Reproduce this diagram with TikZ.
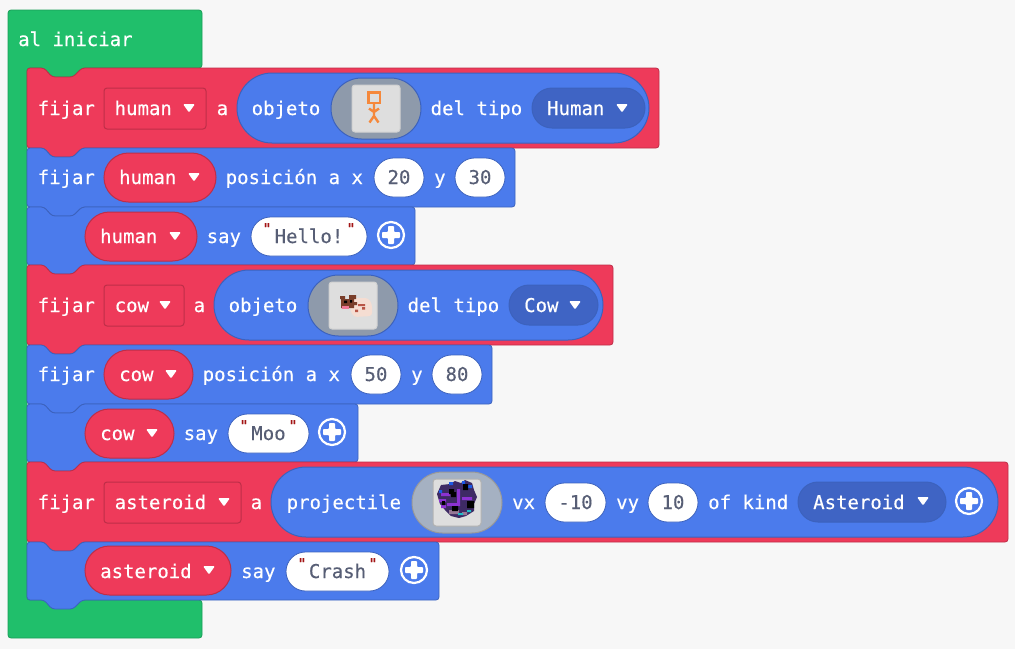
\documentclass[tikz,border=0pt]{standalone}
\usepackage{fontspec}
\usetikzlibrary{shapes.misc}
\newfontfamily\blockfont{DejaVu Sans Mono}[FakeBold=0.3]
\definecolor{pagegray}{HTML}{F7F7F7}
\definecolor{startgreen}{HTML}{20BF6B}
\definecolor{startedge}{HTML}{1A9D58}
\definecolor{varred}{HTML}{EE3A5A}
\definecolor{varedge}{HTML}{BE2E48}
\definecolor{spriteblue}{HTML}{4B7BEC}
\definecolor{spriteedge}{HTML}{3C62BD}
\definecolor{kinddark}{HTML}{3F64C4}
\definecolor{slotgray}{HTML}{8E9AAB}
\definecolor{slotlight}{HTML}{A5B1C2}
\definecolor{thumbgray}{HTML}{DEDEDE}
\definecolor{numtext}{HTML}{575E75}
\definecolor{quotered}{HTML}{A31515}
\definecolor{humanorange}{HTML}{F5883B}
\newcommand{\stackblock}[4]{%
  \draw[#1,rounded corners=3pt] (27,#2) -- (44,#2) -- (52,#2+9) -- (73,#2+9) -- (82,#2) -- (#4,#2)
    -- (#4,#3) -- (82,#3) -- (73,#3+9) -- (52,#3+9) -- (44,#3) -- (27,#3) -- cycle;}
\tikzset{
  startblock/.style={fill=startgreen,draw=startedge,line width=0.8pt},
  setblock/.style={fill=varred,draw=varedge,line width=0.8pt},
  callblock/.style={fill=spriteblue,draw=spriteedge,line width=0.8pt},
  word/.style={font=\fontsize{19}{22}\blockfont,text=white,anchor=base west,inner sep=0pt},
  varpill/.style={rounded rectangle,fill=varred,draw=varedge,line width=1pt,minimum height=49pt,inner sep=0pt},
  varbox/.style={rectangle,rounded corners=3pt,fill=varred,draw=varedge,line width=1pt,minimum height=41pt,inner sep=0pt},
  spritepill/.style={rounded rectangle,fill=spriteblue,draw=spriteedge,line width=1pt,minimum height=70pt,inner sep=0pt},
  kindpill/.style={rounded rectangle,fill=kinddark,draw=spriteedge,line width=1pt,minimum height=40pt,inner sep=0pt},
  slotpill/.style={rounded rectangle,fill=slotgray,draw=spriteedge,line width=1pt,minimum width=90pt,minimum height=61pt,inner sep=0pt},
  thumb/.style={rectangle,rounded corners=3pt,fill=thumbgray,draw=black!18,line width=1pt,minimum width=48pt,minimum height=47pt,inner sep=0pt},
  numpill/.style={rounded rectangle,fill=white,draw=spriteedge,line width=0.8pt,minimum height=39pt,inner sep=0pt,
    font=\fontsize{19}{22}\blockfont,text=numtext,text height=13pt,text depth=0pt},
  quotemark/.style={font=\fontsize{15}{17}\blockfont,text=quotered,anchor=base,inner sep=0pt},
  plusbtn/.style={circle,draw=white,line width=2.2pt,minimum size=26pt,inner sep=0pt,
    path picture={\fill[white,rounded corners=0.8pt] ([shift={(-3,-9)}]path picture bounding box.center) -- ++(6,0) -- ++(0,6) -- ++(6,0) -- ++(0,6)
      -- ++(-6,0) -- ++(0,6) -- ++(-6,0) -- ++(0,-6) -- ++(-6,0) -- ++(0,-6) -- ++(6,0) -- cycle;}},
  dropmark/.pic={\fill[white,rounded corners=1.2pt] (-6,-4) -- (6,-4) -- (0,4.5) -- cycle;}
}
\begin{document}
\begin{tikzpicture}[x=1pt,y=-1pt]
  \useasboundingbox[fill=pagegray] (0,0) rectangle (1015,649);
  \draw[startblock,rounded corners=3pt] (8,10) -- (202,10) -- (202,68) -- (82,68) -- (73,77) -- (52,77) -- (44,68) -- (27,68)
    -- (27,600) -- (202,600) -- (202,638) -- (8,638) -- cycle;
  \node[word] (start) at (18,46) {al iniciar};

  \stackblock{setblock}{68}{148}{659}
  \stackblock{callblock}{148}{207}{515}
  \stackblock{callblock}{207}{265}{415}
  \stackblock{setblock}{265}{345}{613}
  \stackblock{callblock}{345}{404}{492}
  \stackblock{callblock}{404}{462}{358}
  \stackblock{setblock}{462}{542}{1008}
  \stackblock{callblock}{542}{600}{439}

  % human
  \node[word] (setA) at (37.5,115) {fijar};
  \node[varbox,minimum width=102pt] (boxA) at (155,108.5) {};
  \node[word] (varA) at (114.5,115) {human};
  \node[word] (toA) at (216.5,115) {a};
  \node[spritepill,minimum width=412pt] (objA) at (443,108) {};
  \node[word] (objwordA) at (251.5,115) {objeto};
  \node[slotpill] (slotA) at (376,108.5) {};
  \node[thumb] (thumbA) at (376,108.5) {};
  \node[word] (typeA) at (430.5,115) {del tipo};
  \node[kindpill,minimum width=113pt] (kindA) at (588.5,108) {};
  \node[word] (kindwordA) at (547,115) {Human};
  \draw[humanorange,line width=2.4pt] (368.5,92.5) rectangle (380,103);
  \draw[humanorange,line width=2.4pt] (374,103) -- (374,116) (369,108.5) -- (374,112) -- (379,108.5) (369.5,122.5) -- (374,116) -- (378.5,122.5);

  \node[word] (posA) at (37.5,184) {fijar};
  \node[varpill,minimum width=112pt] (pillA) at (160,177.5) {};
  \node[word] (varB) at (119,184) {human};
  \node[word] (posword) at (225.5,184) {posición a x};
  \node[numpill,minimum width=50pt] (xA) at (399,177.5) {20};
  \node[word] (yA) at (434,184) {y};
  \node[numpill,minimum width=50pt] (yvalA) at (480,177.5) {30};

  \node[varpill,minimum width=112pt] (pillB) at (141,236.5) {};
  \node[word] (varC) at (100,243) {human};
  \node[word] (sayA) at (206.5,243) {say};
  \node[numpill,minimum width=116pt] (strA) at (309,236.5) {Hello!};
  \node[quotemark] (qA) at (267,234) {"};
  \node[quotemark] (qB) at (351,234) {"};
  \node[plusbtn] (plusA) at (391,235) {};

  % cow
  \node[word] (setC) at (37.5,312) {fijar};
  \node[varbox,minimum width=80pt] (boxC) at (144,305.5) {};
  \node[word] (varD) at (114.5,312) {cow};
  \node[word] (toC) at (193.5,312) {a};
  \node[spritepill,minimum width=389pt] (objC) at (408.5,305) {};
  \node[word] (objwordC) at (228.5,312) {objeto};
  \node[slotpill] (slotC) at (353,305.5) {};
  \node[thumb] (thumbC) at (353,305.5) {};
  \node[word] (typeC) at (407.5,312) {del tipo};
  \node[kindpill,minimum width=89pt] (kindC) at (553.5,305) {};
  \node[word] (kindwordC) at (524,312) {Cow};
  \fill[rounded corners=3pt,color={rgb,255:red,245;green,221;blue,210}] (352,298) -- (368,298) -- (372,304) -- (372,316) -- (354,317) -- (350,310) -- cycle;
  \fill[color={rgb,255:red,122;green,62;blue,42}] (341,299) rectangle (354,308) (340,296) rectangle (345,299) (349,295) rectangle (356,299) (354,302) rectangle (357,305);
  \fill[color={rgb,255:red,240;green,120;blue,150}] (342,306) rectangle (349,308.5);
  \fill[black] (344,300.5) rectangle (347,303) (350,300) rectangle (352,302.5);
  \fill[color={rgb,255:red,185;green,85;blue,70}] (358,304) rectangle (365,306) (362,307) rectangle (365,309.5) (355,309.5) rectangle (358,312);

  \node[word] (posC) at (37.5,381) {fijar};
  \node[varpill,minimum width=89pt] (pillC) at (148.5,374.5) {};
  \node[word] (varE) at (119,381) {cow};
  \node[word] (poswordC) at (202.5,381) {posición a x};
  \node[numpill,minimum width=50pt] (xC) at (376,374.5) {50};
  \node[word] (yC) at (411,381) {y};
  \node[numpill,minimum width=50pt] (yvalC) at (457,374.5) {80};

  \node[varpill,minimum width=89pt] (pillD) at (129.5,433.5) {};
  \node[word] (varF) at (100,440) {cow};
  \node[word] (sayC) at (183.5,440) {say};
  \node[numpill,minimum width=81pt] (strC) at (268.5,433.5) {Moo};
  \node[quotemark] (qC) at (244,431) {"};
  \node[quotemark] (qD) at (293,431) {"};
  \node[plusbtn] (plusC) at (332,432) {};

  % asteroid
  \node[word] (setE) at (37.5,509) {fijar};
  \node[varbox,minimum width=137pt] (boxE) at (172.5,502.5) {};
  \node[word] (varG) at (114.5,509) {asteroid};
  \node[word] (toE) at (250.5,509) {a};
  \node[spritepill,minimum width=727pt] (objE) at (634.5,502) {};
  \node[word] (objwordE) at (286.5,509) {projectile};
  \node[slotpill,fill=slotlight,draw=black!40] (slotE) at (457,502.5) {};
  \node[thumb,draw=black!30] (thumbE) at (457,502.5) {};
  \fill[color={rgb,255:red,62;green,42;blue,100}] (441,485) -- (450,484) -- (455,481) -- (461,483) -- (465,480) -- (472,483) -- (474,490) -- (477,497) -- (474,504) -- (474,511) -- (466,516) -- (459,518) -- (451,516) -- (445,510) -- (440,504) -- (437,494) -- cycle;
  \fill[color={rgb,255:red,140;green,50;blue,210}] (441,493) rectangle (450,496) (457,489) rectangle (460,503) (462,497) rectangle (472,500) (447,503) rectangle (460,506) (439,499) rectangle (446,502) (441,505) rectangle (446,508);
  \fill[color={rgb,255:red,150;green,120;blue,150}] (449,510) rectangle (459,514) (462,512) rectangle (467,515);
  \fill[color={rgb,255:red,30;green,90;blue,230}] (449,482) rectangle (453,485) (468,485) rectangle (472,488) (439,490) rectangle (442,493) (462,481) rectangle (465,484);
  \fill[color={rgb,255:red,30;green,190;blue,200}] (458,513) rectangle (463,515) (467,510) rectangle (471,512);
  \fill[black] (451,492) rectangle (456,497) (449,489) rectangle (454,494) (463,484) rectangle (468,490) (467,501) rectangle (474,508) (452,506) rectangle (458,511) (442,501) rectangle (445,505);
  \node[word] (vxE) at (512,509) {vx};
  \node[numpill,minimum width=61pt] (vxval) at (575.5,502.5) {-10};
  \node[word] (vyE) at (616,509) {vy};
  \node[numpill,minimum width=50pt] (vyval) at (673,502.5) {10};
  \node[word] (ofkind) at (708,509) {of kind};
  \node[kindpill,minimum width=148pt] (kindE) at (872,502) {};
  \node[word] (kindwordE) at (813,509) {Asteroid};
  \node[plusbtn] (plusE) at (969,501) {};

  \node[varpill,minimum width=146pt] (pillF) at (158,570.5) {};
  \node[word] (varH) at (100,578) {asteroid};
  \node[word] (sayE) at (241,578) {say};
  \node[numpill,minimum width=103pt] (strE) at (337.5,571.5) {Crash};
  \node[quotemark] (qE) at (302,569) {"};
  \node[quotemark] (qF) at (373,569) {"};
  \node[plusbtn] (plusF) at (414,570) {};

  \foreach \mx/\my in {189/108,622/108,194/177,175/236,165/305,575/305,171/374,152/433,224/502,923/501,209/570}
    \pic at (\mx,\my) {dropmark};
\end{tikzpicture}
\end{document}
